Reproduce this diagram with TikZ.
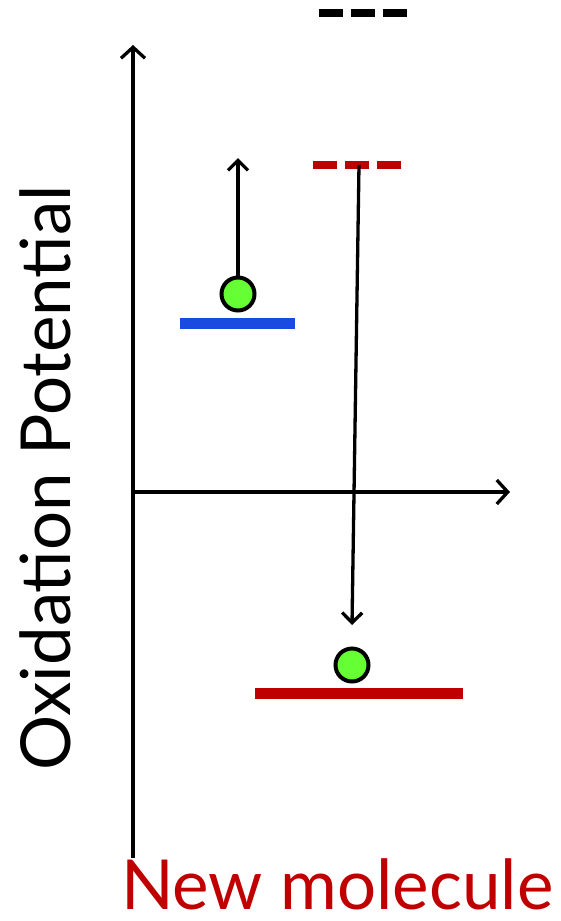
\documentclass[tikz,border=0pt]{standalone}
\usepackage{fontspec}
\setmainfont{Lato}
\usetikzlibrary{arrows.meta}
\definecolor{darkred}{HTML}{C00000}
\definecolor{levelblue}{HTML}{1A4BE0}
\definecolor{ballgreen}{HTML}{66FF33}
\tikzset{
  axis/.style={line width=3.3pt, -{Straight Barb[length=11pt,width=24pt,line width=3.3pt]}},
  jump/.style={line width=3.3pt, -{Straight Barb[length=10pt,width=20pt,line width=3.3pt]}},
  level/.style={line width=11pt},
  dashlevel/.style={line width=8pt, dash pattern=on 24pt off 8pt},
  ball/.style={circle, draw=black, line width=4pt, fill=ballgreen, minimum size=33pt, inner sep=0pt},
}
\begin{document}
\begin{tikzpicture}[x=1pt,y=-1pt]
\useasboundingbox (0,0) rectangle (560,921);
% axes
\coordinate (origin) at (133,492);
\coordinate (ybot) at (133,858);
\coordinate (ytop) at (133,45);
\coordinate (xend) at (510,492);
\draw[axis] (ybot) -- (ytop);
\draw[axis] (origin) -- (xend);
% levels
\coordinate (bl) at (180,323); \coordinate (br) at (295,323);
\draw[level, levelblue] (bl) -- (br);
\coordinate (rl) at (255,693); \coordinate (rr) at (463,693);
\draw[level, darkred] (rl) -- (rr);
\coordinate (kl) at (319,13); \coordinate (kr) at (407,13);
\draw[dashlevel, black] (kl) -- (kr);
\coordinate (dl) at (313,165); \coordinate (dr) at (402,165);
\draw[dashlevel, darkred] (dl) -- (dr);
% balls
\node[ball] (b1) at (238,294) {};
\node[ball] (b2) at (352,665) {};
% arrows
\coordinate (uptip) at (238,158);
\draw[jump] (b1.north) -- (uptip);
\coordinate (dtop) at (359,165);
\coordinate (dtip) at (352,625);
\draw[jump] (dtop) -- (dtip);
% labels
\node[rotate=90, font=\fontsize{69}{74}\selectfont, inner sep=0pt] (ylab) at (45,478) {Oxidation Potential};
\node[font=\fontsize{69}{74}\selectfont, text=darkred, inner sep=0pt, anchor=base west] (xlab) at (121,909) {New molecule};
\end{tikzpicture}
\end{document}
